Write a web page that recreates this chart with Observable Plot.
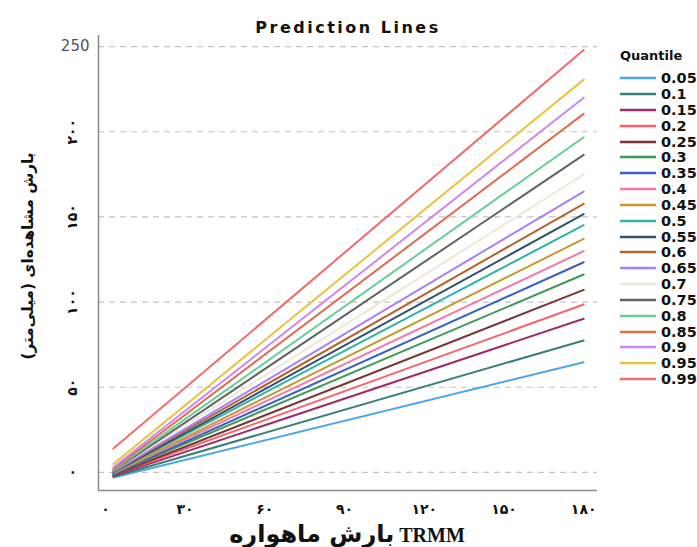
<!DOCTYPE html>
<html>
<head>
<meta charset="utf-8">
<script src="https://cdn.jsdelivr.net/npm/d3@7"></script>
<script src="https://cdn.jsdelivr.net/npm/@observablehq/plot@0.6"></script>
<style>
  html, body { margin: 0; padding: 0; background: #fff; }
  #wrap { position: relative; width: 697px; height: 547px; overflow: hidden; }
  #legend { position: absolute; left: 618px; top: 46px; font-family: "DejaVu Sans", sans-serif; font-weight: bold; color: #111; }
  #legend .ttl { font-size: 13px; height: 20px; line-height: 20px; margin-left: 2px; margin-bottom: 4.4px; }
  #legend .row { height: 15.84px; display: flex; align-items: center; font-size: 14.5px; }
  #legend .row svg { margin-left: 2px; margin-right: 5px; }
  .ttlx { position: absolute; left: 347px; top: 534px; transform: translate(-50%, -50%); white-space: nowrap; font-weight: bold; color: #111; line-height: 1; }
  .ttlx .fa { font-family: "DejaVu Sans", sans-serif; font-size: 24px; }
  .ttlx .en { font-family: "Liberation Serif", serif; font-size: 20px; }
  .ttly { position: absolute; left: 29px; top: 256px; transform: translate(-50%, -50%) rotate(-90deg); white-space: nowrap; font-family: "DejaVu Sans", sans-serif; font-weight: bold; font-size: 15.3px; color: #111; line-height: 1; }
</style>
</head>
<body>
<div id="wrap"></div>
<script>
const quantiles = ["0.05","0.1","0.15","0.2","0.25","0.3","0.35","0.4","0.45","0.5","0.55","0.6","0.65","0.7","0.75","0.8","0.85","0.9","0.95","0.99"];
const colors = ["#4aa8ea","#3a7f76","#9e2c69","#f7636b","#7a3636","#3f9a59","#3c5fc4","#ef7ba6","#c4992e","#2fb2aa","#34506e","#b5622d","#a77dfb","#ece8d5","#626262","#66cf96","#df6a4f","#cf86f0","#e8c33d","#f26b6b"];
const startValues = [-3,-2.5,-2,-1.5,-1.5,-1,-1,-0.5,-0.5,0,0,0.5,0.5,1,1,1.5,2,3,5,14];
const endValues = [64.7,77.5,90.2,98.6,107.2,116.2,123.4,129.9,137.1,145.2,151.6,157.7,164.9,174.9,186.4,196.8,210.5,220,230.6,248];
const xStart = 3, xEnd = 180;
const xTicks = [0,30,60,90,120,150,180];
const xTickLabels = ["۰","۳۰","۶۰","۹۰","۱۲۰","۱۵۰","۱۸۰"];
const yTicks = [0,50,100,150,200,250];
const yTickLabels = ["۰","۵۰","۱۰۰","۱۵۰","۲۰۰","250"];
const title = "Prediction Lines";
const xTitleFa = "بارش ماهواره";
const xTitleEn = "TRMM";
const yTitle = "بارش مشاهده‌ای (میلی‌متر)";
const legendTitle = "Quantile";

const rows = [];
quantiles.forEach((q, i) => {
  rows.push({q, x: xStart, y: startValues[i]});
  rows.push({q, x: xEnd, y: endValues[i]});
});
const yt = yTicks.map((v, i) => ({v, label: yTickLabels[i]}));
const xt = xTicks.map((v, i) => ({v, label: xTickLabels[i]}));
const xDom = [-2.6, 185.2], yDom = [-10.6, 256.5];

const chart = Plot.plot({
  width: 697, height: 547,
  marginLeft: 98, marginRight: 100, marginTop: 35, marginBottom: 57,
  x: {domain: xDom, axis: null},
  y: {domain: yDom, axis: null},
  color: {domain: quantiles, range: colors},
  marks: [
    Plot.ruleY(yTicks, {stroke: "#c4c4c4", strokeWidth: 1.2, strokeDasharray: "6,5"}),
    Plot.ruleX([xDom[0]], {stroke: "#8a8a8a", strokeWidth: 1.5}),
    Plot.ruleY([yDom[0]], {stroke: "#8a8a8a", strokeWidth: 1.5}),
    Plot.line(rows, {x: "x", y: "y", z: "q", stroke: "q", strokeWidth: 2}),
    Plot.text(yt.filter(d => /[0-9]/.test(d.label)), {y: "v", text: "label", frameAnchor: "left", dx: -9, textAnchor: "end", fontSize: 15, fill: "#555", fontFamily: "DejaVu Sans"}),
    Plot.text(yt.filter(d => !/[0-9]/.test(d.label)), {y: "v", text: "label", frameAnchor: "left", dx: -26, rotate: -90, textAnchor: "middle", fontSize: 14, fontWeight: "bold", fill: "#111", fontFamily: "DejaVu Sans"}),
    Plot.text(xt, {x: "v", text: "label", frameAnchor: "bottom", dy: 23, fontSize: 14, fontWeight: "bold", fill: "#111", fontFamily: "DejaVu Sans"}),
    Plot.text([title], {frameAnchor: "top", dy: -14, fontSize: 16, fontWeight: "bold", fill: "#111", fontFamily: "DejaVu Sans"})
  ]
});
chart.style.background = "#fff";
d3.select(chart).selectAll("text").filter(function() { return this.textContent === title; })
  .style("letter-spacing", "2.5px");
const wrap = document.getElementById("wrap");
wrap.appendChild(chart);

const xt2 = document.createElement("div");
xt2.className = "ttlx"; xt2.dir = "ltr";
const s1 = document.createElement("span"); s1.className = "fa"; s1.dir = "rtl"; s1.textContent = xTitleFa;
const s2 = document.createElement("span"); s2.className = "en"; s2.textContent = " " + xTitleEn;
xt2.appendChild(s1); xt2.appendChild(s2);
wrap.appendChild(xt2);

const yt2 = document.createElement("div");
yt2.className = "ttly"; yt2.dir = "rtl"; yt2.textContent = yTitle;
wrap.appendChild(yt2);

const leg = document.createElement("div");
leg.id = "legend";
const t = document.createElement("div");
t.className = "ttl"; t.textContent = legendTitle;
leg.appendChild(t);
quantiles.forEach((q, i) => {
  const r = document.createElement("div");
  r.className = "row";
  r.innerHTML = `<svg width="36" height="4"><line x1="0" x2="36" y1="2" y2="2" stroke="${colors[i]}" stroke-width="2.5"/></svg><span>${q}</span>`;
  leg.appendChild(r);
});
wrap.appendChild(leg);
</script>
</body>
</html>
